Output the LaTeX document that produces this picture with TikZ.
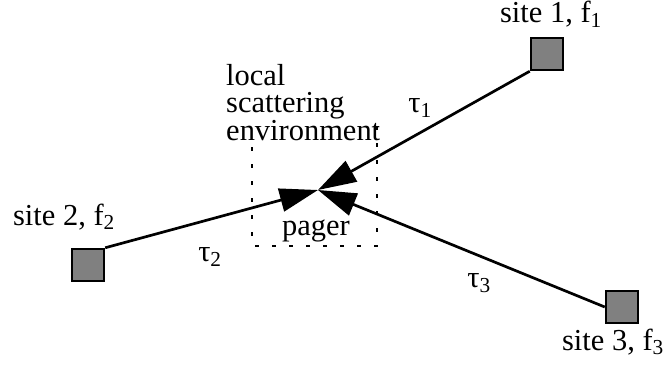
\documentclass[tikz,border=0pt]{standalone}
\usepackage{fontspec}
\setmainfont{Liberation Serif}
\usetikzlibrary{arrows.meta}

\begin{document}
\begin{tikzpicture}[x=0.03cm, y=-0.03cm, font=\fontsize{26}{23.4}\selectfont,
    site/.style={draw=black, line width=1.8pt, fill=black!50, minimum size=0.97cm, inner sep=0pt},
    ray/.style={line width=2.3pt, -{Triangle[length=1.15cm, width=0.7cm]}}]
    \useasboundingbox (0,0) rectangle (665,365);
    % transmitter sites and the pager
    \node[site] (s1) at (547,54) {};
    \node[site] (s2) at (88,265) {};
    \node[site] (s3) at (622,307) {};
    \coordinate (pager) at (318,190);
    \draw[ray] (s1.south west) -- (pager);
    \draw[ray] (s2.north east) -- (pager);
    \draw[ray] (s3.west) -- (pager);
    % local scattering environment
    \draw[line width=1.3pt, dash pattern=on 0.13cm off 0.38cm] (252,147) -- (252,246) -- (377,246) -- (377,118);
    \node[anchor=base west, align=left, inner sep=0pt] (env) at (226,140) {local\\scattering\\environment};
    \node[anchor=base] (pagerlabel) at (316,235) {pager};
    % labels
    \node[anchor=base, inner sep=1pt] (l1) at (551,23) {site 1, f\textsubscript{1}};
    \node[anchor=base] (l2) at (64,225) {site 2, f\textsubscript{2}};
    \node[anchor=base] (l3) at (613,350) {site 3, f\textsubscript{3}};
    \node (t1) at (420,108) {τ\textsubscript{1}};
    \node (t2) at (210,257) {τ\textsubscript{2}};
    \node (t3) at (479,283) {τ\textsubscript{3}};
\end{tikzpicture}
\end{document}
